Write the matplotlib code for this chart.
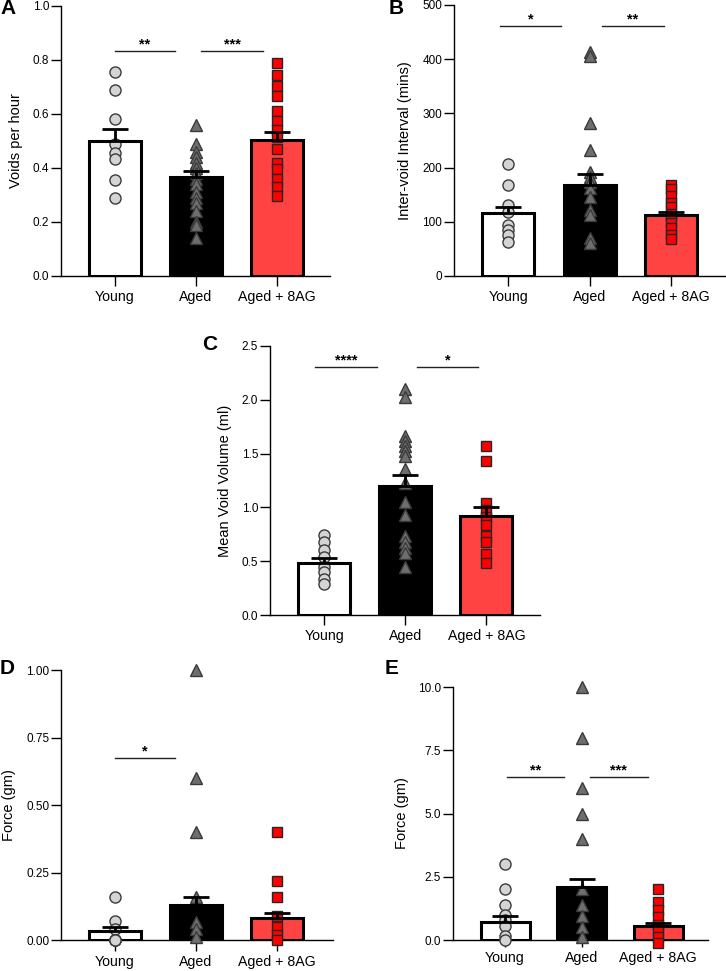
import matplotlib
matplotlib.use("Agg")
import matplotlib.pyplot as plt

plt.rcParams['font.family'] = ['Liberation Sans', 'DejaVu Sans']

groups = ["Young", "Aged", "Aged + 8AG"]

# panel A - voids per hour
a_young = [0.755, 0.69, 0.58, 0.49, 0.455, 0.435, 0.355, 0.29]
a_aged = [0.56, 0.49, 0.46, 0.44, 0.42, 0.40, 0.38, 0.36, 0.34, 0.31,
          0.29, 0.27, 0.24, 0.20, 0.19, 0.14]
a_8ag = [0.79, 0.745, 0.705, 0.665, 0.61, 0.575, 0.54, 0.515, 0.47,
         0.42, 0.395, 0.36, 0.33, 0.295]
a_mean = [0.50, 0.365, 0.505]
a_sem = [0.045, 0.025, 0.027]

# panel B - inter-void interval
b_young = [206, 168, 131, 119, 94, 85, 76, 63]
b_aged = [414, 405, 282, 232, 192, 183, 174, 162, 146, 122, 113, 70, 60]
b_8ag = [168, 160, 148, 135, 128, 115, 110, 98, 88, 75, 68]
b_mean = [117, 168, 112]
b_sem = [11, 20, 6]

# panel C - mean void volume
c_young = [0.74, 0.68, 0.60, 0.54, 0.45, 0.40, 0.33, 0.29]
c_aged = [2.10, 2.03, 1.66, 1.62, 1.57, 1.52, 1.48, 1.36, 1.23, 1.05,
          0.93, 0.73, 0.68, 0.62, 0.58, 0.45]
c_8ag = [1.57, 1.43, 1.04, 0.98, 0.91, 0.84, 0.73, 0.68, 0.57, 0.48]
c_mean = [0.48, 1.20, 0.92]
c_sem = [0.05, 0.10, 0.08]

# panel D - force
d_young = [0.16, 0.07, 0.04, 0.0, 0.0, 0.0, 0.0]
d_aged = [1.0, 0.6, 0.4, 0.16, 0.065, 0.04, 0.01]
d_8ag = [0.40, 0.22, 0.16, 0.09, 0.05, 0.02, 0.0]
d_mean = [0.035, 0.13, 0.08]
d_sem = [0.013, 0.028, 0.02]

# panel E - force
e_young = [3.0, 2.0, 1.4, 1.0, 0.8, 0.55, 0.15, 0.0]
e_aged = [10.0, 8.0, 6.0, 5.0, 4.0, 2.0, 1.4, 0.95, 0.5, 0.1]
e_8ag = [2.0, 1.5, 1.2, 0.9, 0.6, 0.35, 0.1, -0.1]
e_mean = [0.7, 2.1, 0.55]
e_sem = [0.23, 0.33, 0.13]

bar_face = ["white", "black", "#ff4343"]
pt_style = [dict(marker="o", mfc="#d4d4d4", mec="#3a3a3a", ms=8.0),
            dict(marker="^", mfc="#6e6e6e", mec="#3a3a3a", ms=8.5),
            dict(marker="s", mfc="#ff0000", mec="#262626", ms=7.6)]

W, H = 726, 971
fig = plt.figure(figsize=(W / 100, H / 100), dpi=100)


def box(l, t, r, b):
    return [l / W, 1 - b / H, (r - l) / W, (b - t) / H]


def panel(rect, pts, mean, sem, ylim, yticks, fmt, ylabel, lab_x, letter,
          let_xy, sigs, xlim=(-0.667, 2.66), xtl=7):
    ax = fig.add_axes(box(*rect))
    x = range(3)
    ax.bar(x, mean, width=0.64, color=bar_face, edgecolor="black",
           linewidth=2.2, zorder=2)
    for i, vals in enumerate(pts):
        ax.plot([i] * len(vals), vals, ls="none", mew=1.0,
                clip_on=False, zorder=3, **pt_style[i])
    ax.errorbar(x, mean, yerr=[[0, 0, 0], sem], fmt="none", ecolor="black",
                elinewidth=2.0, capsize=9.5, capthick=2.0, zorder=4)
    for x0, x1, y, txt in sigs:
        ax.plot([x0, x1], [y, y], color="#222222", lw=1.0, clip_on=False)
        ax.text((x0 + x1) / 2, y, txt, ha="center", va="bottom",
                fontsize=10.5, fontweight="bold")
    ax.set_xlim(*xlim)
    ax.set_ylim(*ylim)
    ax.set_yticks(yticks)
    ax.set_yticklabels([fmt.format(v) for v in yticks], fontsize=8.5)
    ax.set_xticks(list(x))
    ax.set_xticklabels(groups, fontsize=10.2)
    ax.tick_params(axis="y", length=7, width=1.0, pad=1.5)
    ax.tick_params(axis="x", length=xtl, width=1.0, pad=3)
    for s in ["top", "right"]:
        ax.spines[s].set_visible(False)
    for s in ["left", "bottom"]:
        ax.spines[s].set_linewidth(1.0)
    ax.spines["left"].set_bounds(ylim[0], yticks[-1])
    t, b = rect[1], rect[3]
    fig.text(lab_x / W, 1 - (t + b) / 2 / H, ylabel, rotation=90,
             ha="center", va="center", fontsize=10.5)
    fig.text(let_xy[0] / W, 1 - let_xy[1] / H, letter, fontsize=15,
             fontweight="bold", ha="left", va="center")
    return ax


panel((61, 6, 330, 276), [a_young, a_aged, a_8ag], a_mean, a_sem,
      (0, 1.0), [0, 0.2, 0.4, 0.6, 0.8, 1.0], "{:.1f}", "Voids per hour", 16,
      "A", (0, 8), [(0, 0.74, 0.833, "**"), (1.07, 1.83, 0.833, "***")])

panel((454, 5, 725, 276), [b_young, b_aged, b_8ag], b_mean, b_sem,
      (0, 500), [0, 100, 200, 300, 400, 500], "{:.0f}",
      "Inter-void Interval (mins)", 405, "B", (389, 8),
      [(-0.1, 0.65, 461, "*"), (1.15, 1.91, 461, "**")])

panel((270, 346, 540, 615), [c_young, c_aged, c_8ag], c_mean, c_sem,
      (0, 2.5), [0, 0.5, 1.0, 1.5, 2.0, 2.5], "{:.1f}",
      "Mean Void Volume (ml)", 225, "C", (202, 344),
      [(-0.11, 0.65, 2.305, "****"), (1.15, 1.9, 2.305, "*")])

panel((61, 670, 333, 940), [d_young, d_aged, d_8ag], d_mean, d_sem,
      (0, 1.0), [0, 0.25, 0.5, 0.75, 1.0], "{:.2f}", "Force (gm)", 9,
      "D", (0, 668), [(0, 0.74, 0.674, "*")], xlim=(-0.667, 2.69), xtl=8)

panel((453, 687, 708, 940), [e_young, e_aged, e_8ag], e_mean, e_sem,
      (0, 10.0), [0, 2.5, 5.0, 7.5, 10.0], "{:.1f}", "Force (gm)", 402,
      "E", (385, 668), [(0.03, 0.77, 6.44, "**"), (1.11, 1.86, 6.44, "***")],
      xlim=(-0.68, 2.65), xtl=5)

fig.savefig("out.png", dpi=100)
